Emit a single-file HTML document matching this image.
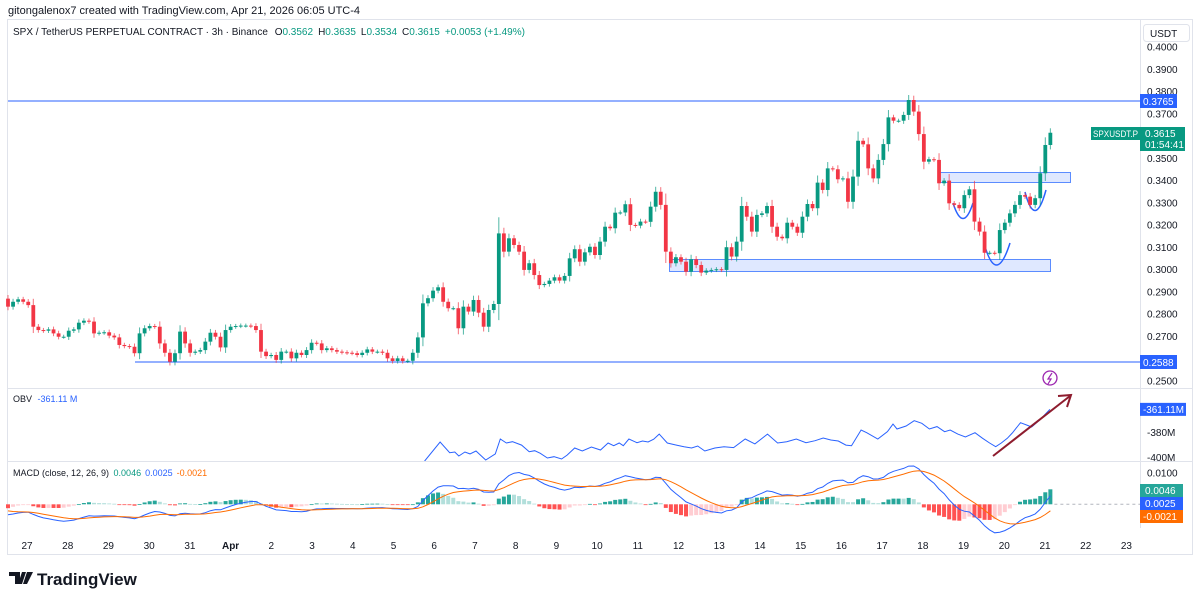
<!DOCTYPE html>
<html><head><meta charset="utf-8"><style>
html,body{margin:0;padding:0;background:#fff;}
body{width:1200px;height:600px;overflow:hidden;font-family:"Liberation Sans",sans-serif;}
svg text{font-family:"Liberation Sans",sans-serif;}
</style></head><body>
<svg id="c" width="1200" height="600" viewBox="0 0 1200 600" xmlns="http://www.w3.org/2000/svg">
<text x="8" y="14" font-size="11" fill="#131722">gitongalenox7 created with TradingView.com, Apr 21, 2026 06:05 UTC-4</text>
<rect x="7.5" y="19.5" width="1185" height="535" fill="none" stroke="#e0e3eb"/>
<line x1="1140.5" y1="20" x2="1140.5" y2="528" stroke="#e0e3eb"/>
<line x1="8" y1="388.5" x2="1193" y2="388.5" stroke="#e0e3eb"/>
<line x1="8" y1="461.5" x2="1193" y2="461.5" stroke="#e0e3eb"/>
<text x="13" y="35" font-size="10" fill="#131722">SPX / TetherUS PERPETUAL CONTRACT · 3h · Binance <tspan dx="4">O</tspan><tspan fill="#089981">0.3562</tspan><tspan dx="5">H</tspan><tspan fill="#089981">0.3635</tspan><tspan dx="5">L</tspan><tspan fill="#089981">0.3534</tspan><tspan dx="5">C</tspan><tspan fill="#089981">0.3615</tspan><tspan dx="5" fill="#089981">+0.0053 (+1.49%)</tspan></text>
<rect x="1143.5" y="24.5" width="46" height="17" rx="3" fill="#fff" stroke="#e0e3eb"/>
<text x="1150" y="37" font-size="10" fill="#131722">USDT</text>
<g id="drawings">
<line x1="8" y1="101" x2="1140" y2="101" stroke="#2962ff" stroke-width="1"/>
<line x1="135" y1="362" x2="1140" y2="362" stroke="#2962ff" stroke-width="1"/>
<rect x="938.5" y="172.5" width="132" height="10" fill="rgba(41,98,255,0.15)" stroke="#5b8cff"/>
<rect x="669.5" y="259.5" width="381" height="12" fill="rgba(41,98,255,0.15)" stroke="#5b8cff"/>
<path d="M953,203 Q963,234 973,203" fill="none" stroke="#2962ff" stroke-width="1.5"/>
<path d="M984,243 Q996,287 1010,243" fill="none" stroke="#2962ff" stroke-width="1.5"/>
<path d="M1025,192 Q1035,230 1046,190" fill="none" stroke="#2962ff" stroke-width="1.5"/>
</g>
<g id="candles"></g>
<g id="obv"></g>
<g id="macd"></g>
<g id="axis"></g>
<g><circle cx="1050" cy="378" r="7" fill="none" stroke="#9c27b0" stroke-width="1.3"/><path d="M1052,373 L1048,379 L1051,379 L1048,384" fill="none" stroke="#9c27b0" stroke-width="1.2"/></g>
<g><line x1="993" y1="456" x2="1070" y2="396" stroke="#8e1c2e" stroke-width="2"/><path d="M1058,396 L1071,395 L1067,407" fill="none" stroke="#8e1c2e" stroke-width="2"/></g>
<text x="13" y="402" font-size="9" fill="#131722">OBV <tspan fill="#2962ff" dx="3">-361.11 M</tspan></text>
<text x="13" y="476" font-size="9" fill="#131722">MACD (close, 12, 26, 9) <tspan fill="#089981" dx="2">0.0046</tspan><tspan fill="#2962ff" dx="4">0.0025</tspan><tspan fill="#ff6d00" dx="4">-0.0021</tspan></text>
<g><path d="M9,572 h11 v12 h-5 v-8 h-6z M22,572 h4 l-4,12 h-4z M27,572 h6 l-6,12 h-4z" fill="#131722"/><text x="37" y="585" font-size="17" font-weight="bold" fill="#131722">TradingView</text></g>
<g>
<rect x="1140" y="94" width="37" height="14" fill="#2962ff"/>
<text x="1143" y="105" font-size="10" fill="#fff">0.3765</text>
<rect x="1091" y="127" width="49" height="13" fill="#089981"/>
<text x="1093" y="137" font-size="9" fill="#fff" textLength="45" lengthAdjust="spacingAndGlyphs">SPXUSDT.P</text>
<rect x="1140" y="127" width="45" height="24" fill="#089981"/>
<text x="1145" y="137" font-size="10" fill="#fff">0.3615</text>
<text x="1145" y="148" font-size="10" fill="#fff">01:54:41</text>
<rect x="1140" y="355" width="37" height="14" fill="#2962ff"/>
<text x="1143" y="366" font-size="10" fill="#fff">0.2588</text>
<rect x="1140" y="484" width="43" height="13" fill="#26a69a"/>
<text x="1145" y="494" font-size="10" fill="#fff">0.0046</text>
<rect x="1140" y="497" width="43" height="13" fill="#2962ff"/>
<text x="1145" y="507" font-size="10" fill="#fff">0.0025</text>
<rect x="1140" y="510" width="43" height="13" fill="#ff6d00"/>
<text x="1143" y="520" font-size="10" fill="#fff">-0.0021</text>
</g>
</svg>
<script>
const closes = [
.2834,.2856,.2867,.2856,.2841,.2744,.2729,.2726,.2732,.2714,
.2699,.2699,.2726,.2732,.2762,.2771,.2767,.2714,.2717,.2719,
.2704,.2696,.2662,.2657,.2654,.2625,.2714,.2737,.2747,.2744,
.2669,.2627,.2587,.2625,.2722,.2669,.2627,.2632,.2639,.2677,
.2717,.2699,.2651,.2729,.2744,.2747,.2749,.2749,.2747,.2729,
.2632,.2612,.2617,.2595,.2632,.2632,.2602,.2627,.2617,.2639,
.2672,.2669,.2639,.2647,.2639,.2632,.2629,.2627,.2625,.2617,
.2627,.2642,.2632,.2632,.2627,.2602,.2590,.2602,.2590,.2591,
.2627,.2696,.2849,.2872,.2906,.2921,
.2856,.2827,.2827,.2737,.2834,.2812,.2864,.2807,.2744,.2819,
.2846,.3163,.3081,.3141,.3111,.3081,.2999,.3029,.2976,.2931,
.2936,.2951,.2966,.2951,.2972,.3051,.3092,.3036,.3078,.3103,
.3066,.3126,.3193,.3186,.3256,.3257,.3294,.3201,.3198,.3216,
.3215,.3283,.3350,.3291,.3081,.3029,.3056,.3036,.2991,.3047,
.3021,.2987,.2996,.2999,.3002,.2999,.3101,.3059,.3126,.3286,
.3238,.3171,.3246,.3253,.3286,.3193,
.3148,.3141,.3211,.3193,.3166,.3238,.3295,.3276,.3391,.3358,
.3455,.3451,.3406,.3410,.3305,.3418,.3579,.3563,.3455,.3410,
.3493,.3564,.3684,.3669,.3669,.3695,.3762,.3710,.3609,.3485,
.3496,.3493,.3388,.3400,.3298,.3291,.3276,.3335,.3361,.3216,
.3171,.3076,.3076,.3074,.3178,.3211,.3253,.3291,.3335,.3328,
.3291,.3321,.3433,.3560,.3615];
const firstOpen = 0.2870;
// indicator state carried in from before the visible window
const emaSeeds = [0.2860, 0.2894, -0.0018];
const obvIdx = [80,82.4,85.4,87.3,88.3,89.1,90.3,91.3,92.5,94.4,96.3,97.3,98.5,99.7,101.5,103,104.1,105.2,106.6,107.9,109.4,110.5,112,113.5,115.3,117.1,118.6,119.7,120.8,121.6,122.7,124.3,125.4,126.5,127.6,128.7,130.3,132.1,133.6,135.1,136.3,137.7,139.7,141.5,143.4,145.7,147.6,150.1,152.1,153.9,155.8,157.7,159.5,161.1,162.6,164.1,165.6,166.7,168.6,169.7,171.9,173.8,174.9,175.7,177.5,179.1,180.6,182.1,183.6,185.1,186.2,187.7,189.2,191.1,192.6,194,195.2,196.3,197.5,198.5,200.1,201.3,202.3,203.9,205.9];
const obvVal = [-420,-402.7,-387.5,-396.2,-395.6,-398.9,-395.6,-397.2,-394.8,-402.1,-397.2,-385.1,-388.3,-387.3,-390.0,-395.4,-394.6,-396.7,-400.5,-399.4,-401.3,-398.1,-392.4,-394.8,-391.6,-394.0,-388.3,-390.5,-388.3,-390.5,-385.1,-388.1,-386.7,-387.5,-385.3,-381.1,-388.3,-390.0,-391.3,-392.4,-390.8,-394.8,-392.4,-391.3,-392.1,-385.1,-389.1,-381.1,-388.3,-387.3,-385.1,-388.1,-386.5,-384.3,-385.9,-386.7,-390.0,-390.5,-377.8,-380.0,-385.1,-379.2,-373.0,-377.0,-374.6,-370.3,-372.4,-377.0,-375.1,-379.2,-377.8,-381.1,-383.5,-380.0,-384.5,-388.3,-391.3,-388.3,-384.5,-380.2,-371.9,-373.8,-375.4,-369.7,-361.11];
const priceTicks = ["0.4000","0.3900","0.3800","0.3700","0.3600","0.3500","0.3400","0.3300","0.3200","0.3100","0.3000","0.2900","0.2800","0.2700","0.2600","0.2500"];
const dateLabels = ["27","28","29","30","31","Apr","2","3","4","5","6","7","8","9","10","11","12","13","14","15","16","17","18","19","20","21","22","23"];
const obvTicks = [-380,-400];
const macdTicks = [0.01];

const NS="http://www.w3.org/2000/svg";
function mk(tag,attrs,parent){const e=document.createElementNS(NS,tag);for(const k in attrs)e.setAttribute(k,attrs[k]);parent.appendChild(e);return e;}
const xOf=i=>8+i*5.06;
const yP=p=>47+(0.4-p)*2227;
const yObv=v=>432.7-(v+380)*1.235;
const yM=v=>504.3-v*3130;
const dayX=d=>27+d*40.72;

const axis=document.getElementById('axis');
priceTicks.forEach(t=>{
  const y=yP(parseFloat(t));
  if(Math.abs(y-101)<7||Math.abs(y-136)<12||Math.abs(y-362)<7) return;
  const tx=mk('text',{x:1147,y:y+3.5,'font-size':10,fill:'#131722'},axis);
  
  
  tx.textContent=t;
});
dateLabels.forEach((d,k)=>{
  const tx=mk('text',{x:dayX(k),y:549,'font-size':10,fill:'#131722','text-anchor':'middle','font-weight':d==='Apr'?'bold':'normal'},axis);
  
  
  tx.textContent=d;
});
obvTicks.forEach(v=>{
  const tx=mk('text',{x:1147,y:yObv(v)+3.5,'font-size':10,fill:'#131722'},axis);
  
  
  tx.textContent=v+'M';
});
macdTicks.forEach(v=>{
  const tx=mk('text',{x:1147,y:yM(v)+3.5,'font-size':10,fill:'#131722'},axis);
  
  
  tx.textContent=v.toFixed(4);
});

const cg=document.getElementById('candles');
let prev=firstOpen;
closes.forEach((c,i)=>{
  const o=prev; prev=c;
  const up=c>=o, col=up?'#089981':'#f23645';
  const w=0.0009+Math.abs(c-o)*0.2;
  const hi=Math.max(o,c)+w, lo=Math.min(o,c)-w;
  const x=xOf(i);
  const wick=mk('line',{x1:x,x2:x,y1:yP(hi),y2:yP(lo),stroke:col,'stroke-width':1,opacity:0.7},cg);
  
  
  const yt=yP(Math.max(o,c)), yb=yP(Math.min(o,c));
  const b=mk('rect',{x:x-1.9,y:yt,width:3.8,height:Math.max(1,yb-yt),fill:col},cg);
  
  
});

const og=document.getElementById('obv');
const cp=mk('clipPath',{id:'obvclip'},og);
mk('rect',{x:8,y:389,width:1132,height:72},cp);
const obvLine=mk('polyline',{points:obvIdx.map((t,k)=>xOf(t).toFixed(1)+','+yObv(obvVal[k]).toFixed(1)).join(' '),fill:'none',stroke:'#2962ff','stroke-width':1,'clip-path':'url(#obvclip)'},og);


const lastObv=obvVal[obvVal.length-1];
const ot=mk('rect',{x:1140,y:yObv(lastObv)-6.5,width:46,height:13,fill:'#2962ff'},og);


const ott=mk('text',{x:1143,y:yObv(lastObv)+3.5,'font-size':10,fill:'#fff',textLength:41,lengthAdjust:'spacingAndGlyphs'},og);


ott.textContent=lastObv.toFixed(2)+'M';

function ema(arr,n,seed){const k=2/(n+1);const out=[];let e=seed;arr.forEach(v=>{e=v*k+e*(1-k);out.push(e);});return out;}
const e12=ema(closes,12,emaSeeds[0]), e26=ema(closes,26,emaSeeds[1]);
const macd=closes.map((_,i)=>e12[i]-e26[i]);
const sig=ema(macd,9,emaSeeds[2]);
const hist=macd.map((m,i)=>m-sig[i]);
const mg=document.getElementById('macd');
const zl=mk('line',{x1:xOf(closes.length-1)+4,x2:1140,y1:yM(0),y2:yM(0),stroke:'#b2b5be','stroke-dasharray':'3,3'},mg);


hist.forEach((h,i)=>{
  const p=i?hist[i-1]:0;
  const col=h>=0?(h>=p?'#26a69a':'#b2dfdb'):(h<p?'#ff5252':'#ffcdd2');
  const y0=yM(0), y1=yM(h);
  const r=mk('rect',{x:xOf(i)-2,y:Math.min(y0,y1),width:4,height:Math.max(0.8,Math.abs(y1-y0)),fill:col},mg);
  
  
});
const ml=mk('polyline',{points:macd.map((v,i)=>xOf(i).toFixed(1)+','+yM(v).toFixed(1)).join(' '),fill:'none',stroke:'#2962ff','stroke-width':1},mg);


const sl=mk('polyline',{points:sig.map((v,i)=>xOf(i).toFixed(1)+','+yM(v).toFixed(1)).join(' '),fill:'none',stroke:'#ff6d00','stroke-width':1},mg);


</script>
</body></html>
